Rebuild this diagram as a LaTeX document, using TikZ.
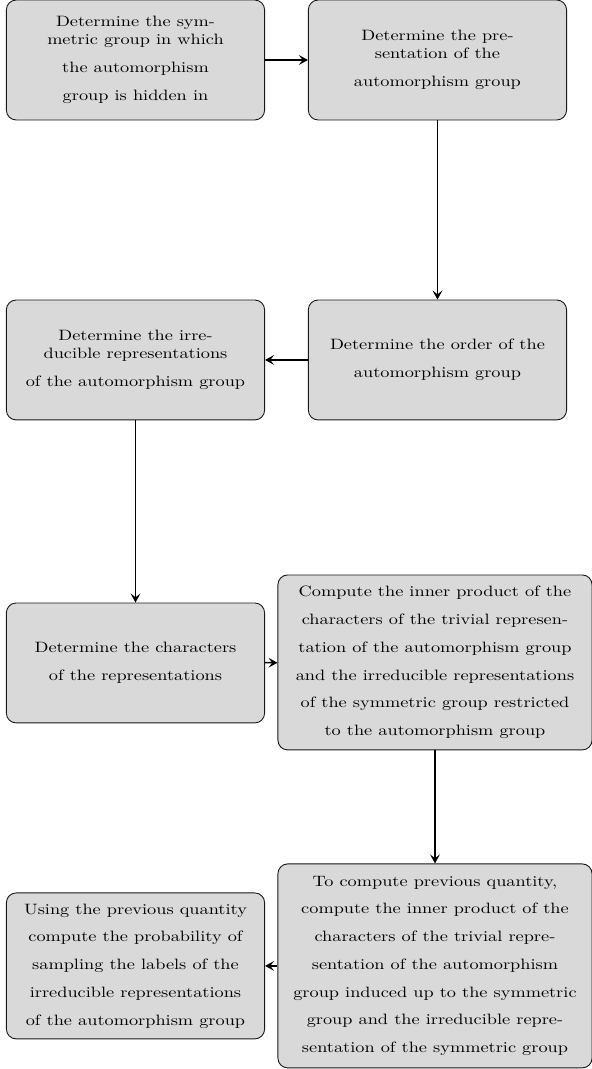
\documentclass[tikz,border=0pt]{standalone}
\usepackage{amsmath}
\usepackage{fontspec}
\setmainfont{lmroman10-regular.otf}[FakeStretch=1.22]
\usepackage[usenames,dvipsnames]{xcolor}
\usepackage{tikz}
\usetikzlibrary{arrows.meta}

\tikzset{
  stepbox/.style={draw=black!90, line width=0.6pt, fill=black!15,
    rounded corners=6.5pt, align=center,
    minimum width=6.05cm, minimum height=2.81cm},
  widebox/.style={stepbox, minimum width=7.36cm},
  flow/.style={line width=1pt, -{Stealth[length=6pt, width=6.5pt, inset=2.5pt]}}
}

\begin{document}
\begin{tikzpicture}
        \useasboundingbox (0, 0) rectangle (13.87, -25.05);

        % symmetric group
        \node [stepbox] (sym) at (3.175, -1.406)
          {Determine the sym-\\metric group in which\\[6.5pt]
           the automorphism\\[6.5pt]group is hidden in};

        % presentation
        \node [stepbox] (pres) at (10.251, -1.406)
          {Determine the pre-\\sentation of the\\[6.5pt]automorphism group};

        % order
        \node [stepbox] (order) at (10.251, -8.435)
          {Determine the order of the\\[6.5pt]automorphism group};

        % irreducible representations
        \node [stepbox] (irrep) at (3.175, -8.435)
          {Determine the irre-\\ducible representations\\[6.5pt]
           of the automorphism group};

        % characters
        \node [stepbox] (char) at (3.175, -15.535)
          {Determine the characters\\[6.5pt]of the representations};

        % inner product, restricted
        \node [widebox, minimum height=4.1cm] (restr) at (10.193, -15.523)
          {Compute the inner product of the\\[6.5pt]
           characters of the trivial represen-\\[6.5pt]
           tation of the automorphism group\\[6.5pt]
           and the irreducible representations\\[6.5pt]
           of the symmetric group restricted\\[6.5pt]
           to the automorphism group};

        % inner product, induced
        \node [widebox, minimum height=4.78cm] (induc) at (10.193, -22.634)
          {To compute previous quantity,\\[6.5pt]
           compute the inner product of the\\[6.5pt]
           characters of the trivial repre-\\[6.5pt]
           sentation of the automorphism\\[6.5pt]
           group induced up to the symmetric\\[6.5pt]
           group and the irreducible repre-\\[6.5pt]
           sentation of the symmetric group};

        % probability
        \node [stepbox, minimum height=3.42cm] (prob) at (3.175, -22.634)
          {Using the previous quantity\\[6.5pt]
           compute the probability of\\[6.5pt]
           sampling the labels of the\\[6.5pt]
           irreducible representations\\[6.5pt]
           of the automorphism group};

        % the arrows
        \draw [flow] (sym) -- (pres);
        \draw [flow] (pres) -- (order);
        \draw [flow] (order) -- (irrep);
        \draw [flow] (irrep) -- (char);
        \draw [flow] (char) -- (restr);
        \draw [flow] (restr) -- (induc);
        \draw [flow] (induc) -- (prob);

      \end{tikzpicture}
\end{document}
